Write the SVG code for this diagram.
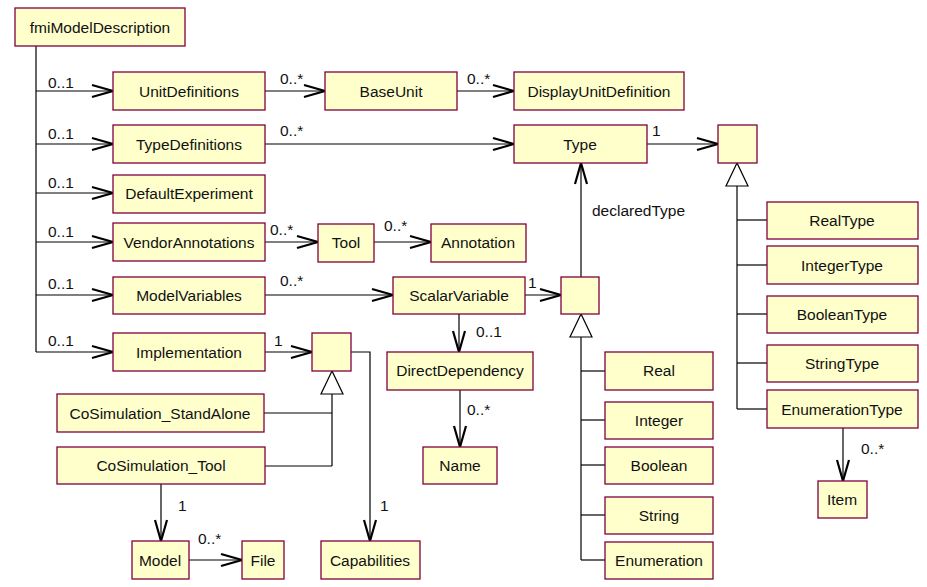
<svg xmlns="http://www.w3.org/2000/svg" width="927" height="587" viewBox="0 0 927 587">
<style>
.n rect{fill:#ffffcc;stroke:#800040;stroke-width:1.3}
.n text{font-family:"Liberation Sans",Arial,sans-serif;font-size:15.5px;fill:#111;text-anchor:middle}
.c line,.c polyline{stroke:#000;stroke-width:1.2;fill:none}
.c .a{marker-end:url(#open)}
.c polygon{fill:#fff;stroke:#000;stroke-width:1.2}
.l{font-family:"Liberation Sans",Arial,sans-serif;font-size:15.5px;fill:#111}
</style>
<defs>
<marker id="open" markerUnits="userSpaceOnUse" markerWidth="30" markerHeight="20" refX="22" refY="8" orient="auto" overflow="visible">
<path d="M1,2 L22,8 L1,14" fill="none" stroke="#000" stroke-width="2.2"/>
</marker>
</defs>
<rect width="927" height="587" fill="#fff"/>
<g class="c" id="connectors">
<line x1="36" y1="46" x2="36" y2="352"/>
<line class="a" x1="36" y1="91" x2="113" y2="91"/>
<line class="a" x1="36" y1="144" x2="113" y2="144"/>
<line class="a" x1="36" y1="193" x2="113" y2="193"/>
<line class="a" x1="36" y1="242" x2="113" y2="242"/>
<line class="a" x1="36" y1="295" x2="113" y2="295"/>
<line class="a" x1="36" y1="352" x2="113" y2="352"/>
<line class="a" x1="265" y1="91" x2="325" y2="91"/>
<line class="a" x1="457" y1="91" x2="514" y2="91"/>
<line class="a" x1="265" y1="144" x2="514" y2="144"/>
<line class="a" x1="647" y1="144" x2="718" y2="144"/>
<line class="a" x1="265" y1="242" x2="318" y2="242"/>
<line class="a" x1="374" y1="242" x2="431" y2="242"/>
<line class="a" x1="265" y1="295" x2="393" y2="295"/>
<line class="a" x1="525" y1="295" x2="561" y2="295"/>
<line class="a" x1="581" y1="277" x2="581" y2="163"/>
<line class="a" x1="459" y1="314" x2="459" y2="352"/>
<line class="a" x1="460" y1="390" x2="460" y2="447"/>
<line class="a" x1="265" y1="352" x2="312" y2="352"/>
<polyline class="a" points="351,352 370,352 370,541"/>
<line class="a" x1="161" y1="484" x2="161" y2="541"/>
<line class="a" x1="189" y1="560" x2="242" y2="560"/>
<line class="a" x1="843" y1="428" x2="843" y2="481"/>
<line x1="737" y1="186" x2="737" y2="409"/>
<line x1="737" y1="220" x2="767" y2="220"/>
<line x1="737" y1="265" x2="767" y2="265"/>
<line x1="737" y1="314" x2="767" y2="314"/>
<line x1="737" y1="363" x2="767" y2="363"/>
<line x1="737" y1="409" x2="767" y2="409"/>
<polygon points="737,163 726,186 748,186"/>
<line x1="581" y1="337" x2="581" y2="560"/>
<line x1="581" y1="371" x2="605" y2="371"/>
<line x1="581" y1="420" x2="605" y2="420"/>
<line x1="581" y1="465" x2="605" y2="465"/>
<line x1="581" y1="515" x2="605" y2="515"/>
<line x1="581" y1="560" x2="605" y2="560"/>
<polygon points="581,314 570,337 592,337"/>
<line x1="332" y1="394" x2="332" y2="466"/>
<line x1="264" y1="413" x2="332" y2="413"/>
<line x1="265" y1="466" x2="332" y2="466"/>
<polygon points="332,371 321,394 343,394"/>
</g>
<g id="labels">
<text class="l" x="48" y="88">0..1</text>
<text class="l" x="48" y="139">0..1</text>
<text class="l" x="48" y="188">0..1</text>
<text class="l" x="48" y="237">0..1</text>
<text class="l" x="48" y="289">0..1</text>
<text class="l" x="48" y="346">0..1</text>
<text class="l" x="280" y="84">0..*</text>
<text class="l" x="467" y="84">0..*</text>
<text class="l" x="280" y="136">0..*</text>
<text class="l" x="652" y="136">1</text>
<text class="l" x="592" y="216">declaredType</text>
<text class="l" x="270" y="235">0..*</text>
<text class="l" x="384" y="231">0..*</text>
<text class="l" x="280" y="286">0..*</text>
<text class="l" x="528" y="288">1</text>
<text class="l" x="476" y="337">0..1</text>
<text class="l" x="467" y="415">0..*</text>
<text class="l" x="274" y="346">1</text>
<text class="l" x="178" y="511">1</text>
<text class="l" x="380" y="511">1</text>
<text class="l" x="198" y="544">0..*</text>
<text class="l" x="861" y="454">0..*</text>
</g>
<g class="n" id="fmiModelDescription"><rect x="15" y="8" width="170" height="38"/><text x="100" y="33">fmiModelDescription</text></g>
<g class="n" id="UnitDefinitions"><rect x="113" y="72" width="152" height="38"/><text x="189" y="97">UnitDefinitions</text></g>
<g class="n" id="TypeDefinitions"><rect x="113" y="125" width="152" height="38"/><text x="189" y="150">TypeDefinitions</text></g>
<g class="n" id="DefaultExperiment"><rect x="113" y="175" width="152" height="38"/><text x="189" y="199">DefaultExperiment</text></g>
<g class="n" id="VendorAnnotations"><rect x="113" y="223" width="152" height="38"/><text x="189" y="248">VendorAnnotations</text></g>
<g class="n" id="ModelVariables"><rect x="113" y="277" width="152" height="37"/><text x="189" y="301">ModelVariables</text></g>
<g class="n" id="Implementation"><rect x="113" y="333" width="152" height="38"/><text x="189" y="358">Implementation</text></g>
<g class="n" id="BaseUnit"><rect x="325" y="72" width="132" height="38"/><text x="391" y="97">BaseUnit</text></g>
<g class="n" id="DisplayUnitDefinition"><rect x="514" y="72" width="170" height="38"/><text x="599" y="97">DisplayUnitDefinition</text></g>
<g class="n" id="Type"><rect x="514" y="125" width="133" height="38"/><text x="580" y="150">Type</text></g>
<g class="n" id="TypeBase"><rect x="718" y="125" width="39" height="38"/></g>
<g class="n" id="Tool"><rect x="318" y="224" width="56" height="38"/><text x="346" y="248">Tool</text></g>
<g class="n" id="Annotation"><rect x="431" y="224" width="95" height="38"/><text x="478" y="248">Annotation</text></g>
<g class="n" id="ScalarVariable"><rect x="393" y="277" width="132" height="37"/><text x="459" y="301">ScalarVariable</text></g>
<g class="n" id="VariableType"><rect x="561" y="277" width="38" height="37"/></g>
<g class="n" id="DirectDependency"><rect x="387" y="352" width="146" height="38"/><text x="460" y="376">DirectDependency</text></g>
<g class="n" id="Name"><rect x="423" y="447" width="74" height="37"/><text x="460" y="471">Name</text></g>
<g class="n" id="ImplementationBase"><rect x="312" y="333" width="39" height="38"/></g>
<g class="n" id="CoSimulation_StandAlone"><rect x="57" y="394" width="207" height="38"/><text x="160" y="419">CoSimulation_StandAlone</text></g>
<g class="n" id="CoSimulation_Tool"><rect x="57" y="447" width="208" height="37"/><text x="161" y="471">CoSimulation_Tool</text></g>
<g class="n" id="Model"><rect x="132" y="541" width="57" height="38"/><text x="160" y="566">Model</text></g>
<g class="n" id="File"><rect x="242" y="541" width="42" height="38"/><text x="263" y="566">File</text></g>
<g class="n" id="Capabilities"><rect x="321" y="541" width="99" height="38"/><text x="370" y="566">Capabilities</text></g>
<g class="n" id="Real"><rect x="605" y="352" width="108" height="38"/><text x="659" y="376">Real</text></g>
<g class="n" id="Integer"><rect x="605" y="402" width="108" height="37"/><text x="659" y="426">Integer</text></g>
<g class="n" id="Boolean"><rect x="605" y="447" width="108" height="37"/><text x="659" y="471">Boolean</text></g>
<g class="n" id="String"><rect x="605" y="497" width="108" height="37"/><text x="659" y="521">String</text></g>
<g class="n" id="Enumeration"><rect x="605" y="542" width="108" height="37"/><text x="659" y="566">Enumeration</text></g>
<g class="n" id="RealType"><rect x="767" y="202" width="151" height="37"/><text x="842" y="226">RealType</text></g>
<g class="n" id="IntegerType"><rect x="767" y="246" width="151" height="38"/><text x="842" y="271">IntegerType</text></g>
<g class="n" id="BooleanType"><rect x="767" y="296" width="151" height="37"/><text x="842" y="320">BooleanType</text></g>
<g class="n" id="StringType"><rect x="767" y="345" width="151" height="37"/><text x="842" y="369">StringType</text></g>
<g class="n" id="EnumerationType"><rect x="767" y="390" width="151" height="38"/><text x="842" y="415">EnumerationType</text></g>
<g class="n" id="Item"><rect x="818" y="481" width="49" height="37"/><text x="842" y="505">Item</text></g>
</svg>
